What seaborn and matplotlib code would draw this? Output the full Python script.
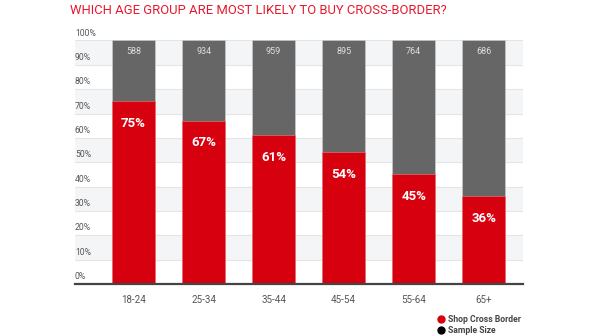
import matplotlib
matplotlib.use("Agg")
import matplotlib.pyplot as plt
import seaborn as sns
import pandas as pd
from matplotlib.lines import Line2D

age_groups = ["18-24", "25-34", "35-44", "45-54", "55-64", "65+"]
shop_cross_border = [75, 67, 61, 54, 45, 36]
sample_size = [588, 934, 959, 895, 764, 686]
total = [100, 100, 100, 100, 100, 100]
y_ticks = [0, 10, 20, 30, 40, 50, 60, 70, 80, 90, 100]

RED = "#d7000f"
GRAY = "#666666"

sns.set_theme(style="white")
plt.rcParams["font.family"] = ["Roboto", "DejaVu Sans"]

df = pd.DataFrame({"age": age_groups, "shop": shop_cross_border,
                   "total": total, "n": sample_size})

fig = plt.figure(figsize=(5.97, 3.36), dpi=100)
ax = fig.add_axes([0.1256, 0.1548, 0.7504, 0.7247])

# alternating bands and gridlines
for i in range(10):
    if i % 2 == 1:
        ax.axhspan(i * 10, (i + 1) * 10, color="#f3f5f7", zorder=0, lw=0)
for t in y_ticks[1:]:
    ax.axhline(t, color="#e3e6e9", lw=0.8, zorder=0.5)

sns.barplot(data=df, x="age", y="total", color=GRAY, width=0.61,
            saturation=1, ax=ax, zorder=2, edgecolor="#cfcfcf", linewidth=0.4)
sns.barplot(data=df, x="age", y="shop", color=RED, width=0.61,
            saturation=1, ax=ax, zorder=3, edgecolor="#f08080", linewidth=0.4)

ax.set_xlim(-0.836, 5.56)
ax.set_ylim(0, 100)
ax.set_xlabel("")
ax.set_ylabel("")
ax.set_yticks([])
for s in ["top", "right", "left"]:
    ax.spines[s].set_visible(False)
ax.spines["bottom"].set_color("#444444")
ax.spines["bottom"].set_linewidth(1.6)
ax.spines["bottom"].set_zorder(5)
ax.tick_params(axis="x", length=0, pad=8, labelsize=7, labelcolor="#555555")

trans = ax.get_yaxis_transform()
for t in y_ticks:
    ax.text(0.0, t + 1.2, f"{t}%", transform=trans, ha="left", va="bottom",
            fontsize=6.2, color="#555555")

for i, (v, n) in enumerate(zip(shop_cross_border, sample_size)):
    ax.text(i, v - 9, f"{v}%", ha="center", va="center", color="white",
            fontsize=9.5, fontweight="bold", zorder=6)
    ax.text(i, 95.3, f"{n}", ha="center", va="center", color="#dedede",
            fontsize=6.5, zorder=6)

fig.text(0.432, 0.97, "WHICH AGE GROUP ARE MOST LIKELY TO BUY CROSS-BORDER?",
         ha="center", va="center", color="#e8192c", fontsize=9.4)

handles = [Line2D([0], [0], marker="o", ls="", color=RED, markersize=5),
           Line2D([0], [0], marker="o", ls="", color="black", markersize=5)]
fig.legend(handles, ["Shop Cross Border", "Sample Size"], loc="upper left",
           bbox_to_anchor=(0.725, 0.075), frameon=False,
           handletextpad=0.3, labelspacing=0.25, borderpad=0, handlelength=1,
           prop={"weight": "bold", "size": 6.2})
for txt in fig.legends[0].get_texts():
    txt.set_color("#444444")

fig.savefig("out.png", dpi=100)
